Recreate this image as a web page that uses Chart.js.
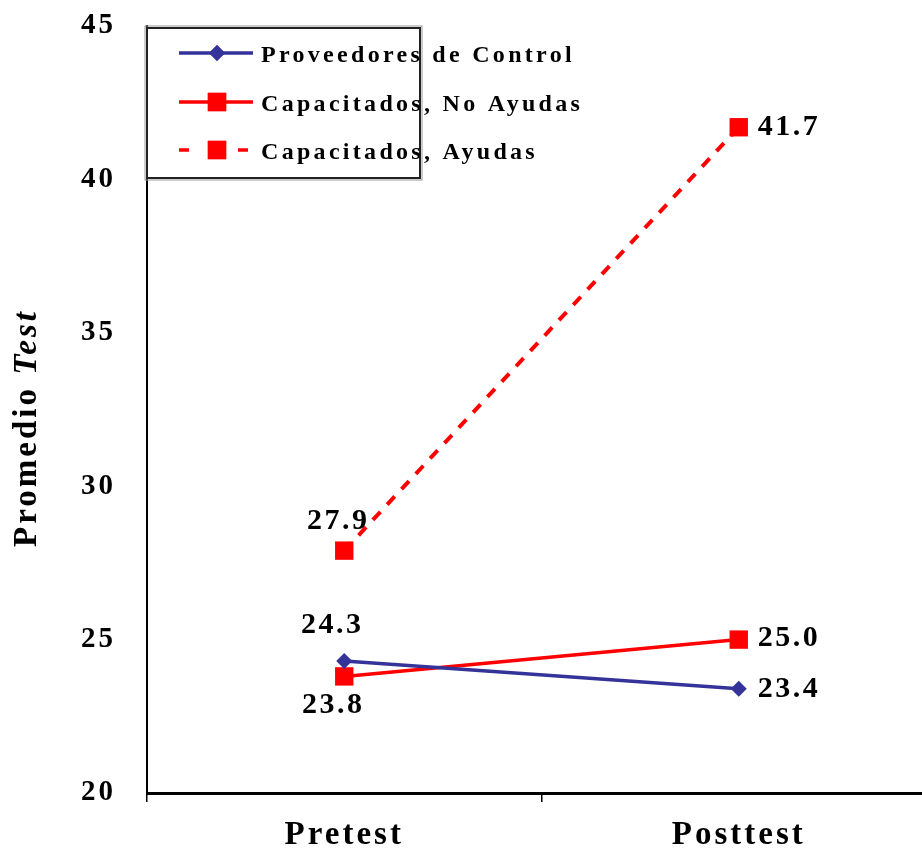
<!DOCTYPE html>
<html>
<head>
<meta charset="utf-8">
<script src="https://cdn.jsdelivr.net/npm/chart.js@4"></script>
<style>
    html, body { margin: 0; padding: 0; background: #fff; overflow: hidden; }
    #wrap { width: 949px; height: 858px; }
</style>
</head>
<body>
<div id="wrap"><canvas id="testChart" width="949" height="858"></canvas></div>
<script>
var categories = ['Pretest', 'Posttest'];
var seriesNames = ['Proveedores de Control', 'Capacitados, No Ayudas', 'Capacitados, Ayudas'];
var controlValues = [24.3, 23.4];
var noAyudasValues = [23.8, 25.0];
var ayudasValues = [27.9, 41.7];
var yTicks = [20, 25, 30, 35, 40, 45];

(function () {
    var SERIF = "'Liberation Serif', 'Times New Roman', serif";
    var BLUE = '#333399';
    var RED = '#ff0000';

    // where each value label sits relative to its point
    var labelPlace = [
        [[-12, -36, 'center'], [19, 1, 'left']],
        [[-11, 29, 'center'], [19, -1, 'left']],
        [[-6, -29, 'center'], [19, 0, 'left']]
    ];

    var spacingPlugin = {
        id: 'spacing',
        beforeDraw: function (chart) {
            chart.ctx.letterSpacing = '3px';
        }
    };

    var valueLabels = {
        id: 'valueLabels',
        afterDatasetsDraw: function (chart) {
            var ctx = chart.ctx;
            ctx.save();
            ctx.letterSpacing = '2.5px';
            ctx.font = 'bold 30px ' + SERIF;
            ctx.fillStyle = '#000';
            ctx.textBaseline = 'middle';
            chart.data.datasets.forEach(function (ds, i) {
                chart.getDatasetMeta(i).data.forEach(function (pt, j) {
                    var p = labelPlace[i][j];
                    ctx.textAlign = p[2];
                    ctx.fillText(ds.data[j].toFixed(1), pt.x + p[0], pt.y + p[1]);
                });
            });
            ctx.restore();
        }
    };

    var yTitle = {
        id: 'yTitle',
        afterDraw: function (chart) {
            var ctx = chart.ctx;
            ctx.save();
            ctx.letterSpacing = '3px';
            ctx.translate(27, 428);
            ctx.rotate(-Math.PI / 2);
            ctx.fillStyle = '#000';
            ctx.textBaseline = 'middle';
            ctx.textAlign = 'left';
            ctx.font = 'bold 33px ' + SERIF;
            var w1 = ctx.measureText('Promedio ').width;
            ctx.font = 'italic bold 33px ' + SERIF;
            var w2 = ctx.measureText('Test').width;
            var x0 = -(w1 + w2) / 2;
            ctx.font = 'bold 33px ' + SERIF;
            ctx.fillText('Promedio ', x0, 0);
            ctx.font = 'italic bold 33px ' + SERIF;
            ctx.fillText('Test', x0 + w1, 0);
            ctx.restore();
        }
    };

    var boxLegend = {
        id: 'boxLegend',
        afterDraw: function (chart) {
            var ctx = chart.ctx;
            ctx.save();
            ctx.fillStyle = '#fff';
            ctx.fillRect(146, 27, 275, 152);
            ctx.strokeStyle = '#999';
            ctx.lineWidth = 1;
            ctx.strokeRect(145, 26, 277, 154);
            ctx.strokeStyle = '#222';
            ctx.lineWidth = 2;
            ctx.strokeRect(147, 28, 273, 150);

            var rows = [53, 102, 150];
            chart.data.datasets.forEach(function (ds, i) {
                var y = rows[i];
                ctx.strokeStyle = ds.borderColor;
                ctx.lineWidth = 3.5;
                ctx.setLineDash([]);
                ctx.beginPath();
                if (ds.borderDash) {
                    ctx.moveTo(179, y); ctx.lineTo(189, y);
                    ctx.moveTo(238, y); ctx.lineTo(248, y);
                } else {
                    ctx.moveTo(179, y); ctx.lineTo(253, y);
                }
                ctx.stroke();
                ctx.fillStyle = ds.pointBackgroundColor;
                Chart.helpers.drawPoint(ctx, {
                    pointStyle: ds.pointStyle,
                    radius: ds.pointRadius,
                    rotation: 0,
                    borderWidth: 0
                }, 217, y);
                ctx.fill();

                ctx.letterSpacing = '3.3px';
                ctx.font = 'bold 24px ' + SERIF;
                ctx.fillStyle = '#000';
                ctx.textAlign = 'left';
                ctx.textBaseline = 'alphabetic';
                ctx.fillText(ds.label, 261, y + 9);
            });
            ctx.restore();
        }
    };

    var ctx = document.getElementById('testChart');
    if (!ctx || !window.Chart) {
        return;
    }

    new Chart(ctx, {
        type: 'line',
        data: {
            labels: categories,
            datasets: [
                {
                    label: seriesNames[0],
                    data: controlValues,
                    borderColor: BLUE,
                    backgroundColor: BLUE,
                    borderWidth: 3.5,
                    pointStyle: 'rectRot',
                    pointRadius: 8,
                    pointBackgroundColor: BLUE,
                    pointBorderColor: BLUE,
                    pointBorderWidth: 0
                },
                {
                    label: seriesNames[1],
                    data: noAyudasValues,
                    borderColor: RED,
                    backgroundColor: RED,
                    borderWidth: 3.5,
                    pointStyle: 'rect',
                    pointRadius: 13,
                    pointBackgroundColor: RED,
                    pointBorderColor: RED,
                    pointBorderWidth: 0
                },
                {
                    label: seriesNames[2],
                    data: ayudasValues,
                    borderColor: RED,
                    backgroundColor: RED,
                    borderWidth: 4,
                    borderDash: [11, 10],
                    pointStyle: 'rect',
                    pointRadius: 13,
                    pointBackgroundColor: RED,
                    pointBorderColor: RED,
                    pointBorderWidth: 0
                }
            ]
        },
        options: {
            responsive: false,
            animation: false,
            layout: { padding: { top: 26, right: 4, left: 0, bottom: 0 } },
            plugins: {
                legend: { display: false },
                tooltip: { enabled: false }
            },
            scales: {
                x: {
                    type: 'category',
                    offset: true,
                    afterFit: function (s) {
                        s.height = 65;
                        s.paddingLeft = 0;
                        s.paddingRight = 0;
                    },
                    grid: {
                        display: true,
                        drawOnChartArea: false,
                        offset: true,
                        tickLength: 9,
                        color: '#000',
                        lineWidth: 1.5
                    },
                    border: { display: true, color: '#000', width: 3 },
                    ticks: {
                        color: '#000',
                        padding: 14,
                        font: { family: SERIF, size: 33, weight: 'bold' }
                    }
                },
                y: {
                    min: 20,
                    max: 45,
                    afterFit: function (s) {
                        s.width = 147;
                        s.paddingTop = 0;
                        s.paddingBottom = 0;
                    },
                    afterBuildTicks: function (s) {
                        s.ticks = yTicks.map(function (v) { return { value: v }; });
                    },
                    grid: { display: false, drawTicks: false },
                    border: { display: true, color: '#000', width: 2 },
                    ticks: {
                        color: '#000',
                        padding: 31,
                        font: { family: SERIF, size: 29, weight: 'bold' }
                    }
                }
            }
        },
        plugins: [spacingPlugin, valueLabels, yTitle, boxLegend]
    });
})();
</script>
</body>
</html>
